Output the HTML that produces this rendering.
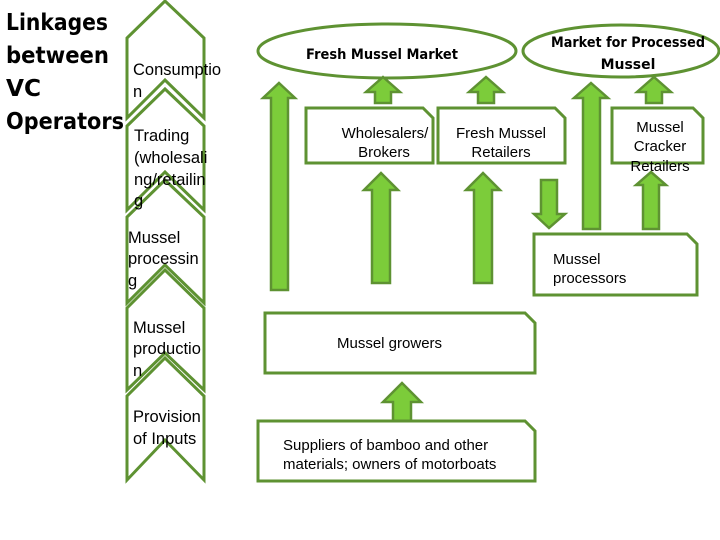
<!DOCTYPE html>
<html><head><meta charset="utf-8"><style>
html,body{margin:0;padding:0;background:#fff;}
svg{display:block;}
.c{fill:#fff;stroke:#5e9232;stroke-width:3;}
.a{fill:#7ccc3a;stroke:#5e9232;stroke-width:2.5;}
.b{fill:#fff;stroke:#5e9232;stroke-width:3;}
.t{font-family:"Liberation Sans",Arial,sans-serif;font-size:15px;fill:#000;}
.cb{font-family:"DejaVu Sans","Liberation Sans",sans-serif;font-size:14px;font-weight:bold;fill:#000;}
</style></head><body>
<svg width="720" height="540" viewBox="0 0 720 540" xmlns="http://www.w3.org/2000/svg">
<polygon class="c" points="165,1 204,38 204,118 165,80 127,118 127,38"/>
<polygon class="c" points="165,89 204,126 204,210 165,172 127,210 127,126"/>
<polygon class="c" points="165,180 204,217 204,303 165,265 127,303 127,217"/>
<polygon class="c" points="165,270 204,308 204,390 165,353 127,390 127,308"/>
<polygon class="c" points="165,358 204,396 204,480 165,440 127,480 127,396"/>
<g class="t" style="font-size:16.5px">
<text x="133" y="75">Consumptio</text><text x="133" y="97">n</text>
<text x="134" y="141">Trading</text><text x="134" y="163">(wholesali</text><text x="134" y="185">ng/retailin</text><text x="134" y="206">g</text>
<text x="128" y="243">Mussel</text><text x="128" y="264">processin</text><text x="128" y="286">g</text>
<text x="133" y="333">Mussel</text><text x="133" y="354">productio</text><text x="133" y="376">n</text>
<text x="133" y="422">Provision</text><text x="133" y="444">of Inputs</text>
</g>
<g style="font-family:'DejaVu Sans','Liberation Sans',sans-serif;font-weight:bold;font-size:23px" fill="#000">
<text x="6" y="30" textLength="102" lengthAdjust="spacingAndGlyphs">Linkages</text>
<text x="6" y="63" textLength="103" lengthAdjust="spacingAndGlyphs">between</text>
<text x="6" y="96" textLength="35" lengthAdjust="spacingAndGlyphs">VC</text>
<text x="6" y="129" textLength="118" lengthAdjust="spacingAndGlyphs">Operators</text>
</g>
<ellipse class="b" cx="387" cy="51" rx="129" ry="27"/>
<ellipse class="b" cx="621" cy="51" rx="98" ry="26"/>
<text class="cb" x="382" y="59" text-anchor="middle" textLength="152" lengthAdjust="spacingAndGlyphs">Fresh Mussel Market</text>
<text class="cb" x="628" y="47" text-anchor="middle" textLength="154" lengthAdjust="spacingAndGlyphs">Market for Processed</text>
<text class="cb" x="628" y="69" text-anchor="middle">Mussel</text>
<polygon class="a" points="279,83 295,98 288,98 288,290 271,290 271,98 263,98"/>
<polygon class="a" points="383,77 400,92 391,92 391,103 375,103 375,92 366,92"/>
<polygon class="a" points="486,77 503,92 494,92 494,103 478,103 478,92 469,92"/>
<polygon class="a" points="654,77 671,92 662,92 662,103 646,103 646,92 637,92"/>
<polygon class="a" points="381,173 398,190 390,190 390,283 372,283 372,190 364,190"/>
<polygon class="a" points="483,173 500,190 492,190 492,283 474,283 474,190 466,190"/>
<polygon class="a" points="541,180 557,180 557,214 565,214 549,228 534,214 541,214"/>
<polygon class="a" points="591,83 608,98 600,98 600,229 583,229 583,98 574,98"/>
<polygon class="a" points="651,172 666,185 659,185 659,229 643,229 643,185 636,185"/>
<polygon class="a" points="402,383 421,402 411,402 411,421 393,421 393,402 383,402"/>
<polygon class="b" points="306,108 423,108 433,118 433,163 306,163"/>
<polygon class="b" points="438,108 555,108 565,118 565,163 438,163"/>
<polygon class="b" points="612,108 693,108 703,118 703,163 612,163"/>
<polygon class="b" points="534,234 687,234 697,244 697,295 534,295"/>
<polygon class="b" points="265,313 525,313 535,323 535,373 265,373"/>
<polygon class="b" points="258,421 525,421 535,431 535,481 258,481"/>
<g class="t" style="font-size:15px">
<text x="385" y="138" text-anchor="middle">Wholesalers/</text><text x="384" y="157" text-anchor="middle">Brokers</text>
<text x="501" y="138" text-anchor="middle">Fresh Mussel</text><text x="501" y="157" text-anchor="middle">Retailers</text>
<text x="660" y="132" text-anchor="middle">Mussel</text><text x="660" y="151" text-anchor="middle">Cracker</text><text x="660" y="171" text-anchor="middle">Retailers</text>
<text x="553" y="264">Mussel</text><text x="553" y="283">processors</text>
<text x="337" y="348">Mussel growers</text>
<text x="283" y="450">Suppliers of bamboo and other</text><text x="283" y="469">materials; owners of motorboats</text>
</g>
</svg>
</body></html>
